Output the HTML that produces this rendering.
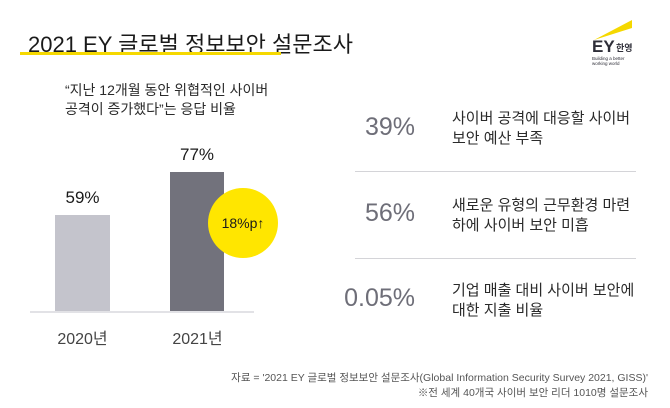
<!DOCTYPE html>
<html><head><meta charset="utf-8"><style>
*{margin:0;padding:0;box-sizing:border-box}
body{width:670px;height:408px;background:#fff;position:relative;overflow:hidden;font-family:"Liberation Sans","Noto Sans CJK KR",sans-serif;color:#222}
.a{position:absolute;white-space:nowrap}
.pct{position:absolute;right:255px;font-size:25px;color:#6e6e78;line-height:1}
.desc{position:absolute;left:452px;font-size:15px;line-height:20px;color:#2a2a2a}
.sep{position:absolute;left:355px;width:281px;height:1px;background:#d4d4d8}
</style></head><body>
<div class="a" style="left:28px;top:27px;font-size:22px;color:#1a1a1a">2021 EY 글로벌 정보보안 설문조사</div>
<div class="a" style="left:20px;top:52px;width:261px;height:3px;background:#f5d800"></div>
<svg class="a" style="left:590px;top:16px" width="50" height="52">
<polygon points="4,24 42,4 42,12" fill="#f5d800"/>
<text x="2" y="36" font-family="Liberation Sans" font-weight="bold" font-size="17" fill="#2e2e38">EY</text>
<text x="26" y="35" font-family="Noto Sans CJK KR" font-weight="bold" font-size="9" fill="#2e2e38">한영</text>
<text x="2" y="44" font-family="Liberation Sans" font-size="4.5" fill="#2e2e38">Building a better</text>
<text x="2" y="49" font-family="Liberation Sans" font-size="4.5" fill="#2e2e38">working world</text>
</svg>
<div class="a" style="left:65px;top:81px;font-size:14px;line-height:19px;color:#2a2a2a">“지난 12개월 동안 위협적인 사이버<br>공격이 증가했다”는 응답 비율</div>
<div class="a" style="left:30px;top:311px;width:224px;height:2px;background:#e2e2e6"></div>
<div class="a" style="left:55px;top:215px;width:55px;height:96px;background:#c4c4cc"></div>
<div class="a" style="left:170px;top:172px;width:54px;height:139px;background:#72727c"></div>
<div class="a" style="left:55px;top:188px;width:55px;text-align:center;font-size:17px;color:#1a1a1a">59%</div>
<div class="a" style="left:167px;top:145px;width:60px;text-align:center;font-size:17px;color:#1a1a1a">77%</div>
<div class="a" style="left:208px;top:188px;width:70px;height:70px;border-radius:50%;background:#ffe600;text-align:center;line-height:70px;font-size:14px;color:#1a1a1a">18%p↑</div>
<div class="a" style="left:45px;top:325px;width:75px;text-align:center;font-size:16px;color:#444">2020년</div>
<div class="a" style="left:160px;top:325px;width:75px;text-align:center;font-size:16px;color:#444">2021년</div>
<div class="pct" style="top:115px">39%</div>
<div class="desc" style="top:109px">사이버 공격에 대응할 사이버<br>보안 예산 부족</div>
<div class="sep" style="top:171px"></div>
<div class="pct" style="top:201px">56%</div>
<div class="desc" style="top:196px">새로운 유형의 근무환경 마련<br>하에 사이버 보안 미흡</div>
<div class="sep" style="top:258px"></div>
<div class="pct" style="top:286px">0.05%</div>
<div class="desc" style="top:281px">기업 매출 대비 사이버 보안에<br>대한 지출 비율</div>
<div class="a" style="right:22px;top:371px;text-align:right;font-size:10.5px;line-height:15px;color:#555">자료 = '2021 EY 글로벌 정보보안 설문조사(Global Information Security Survey 2021, GISS)'<br>※전 세계 40개국 사이버 보안 리더 1010명 설문조사</div>
</body></html>
